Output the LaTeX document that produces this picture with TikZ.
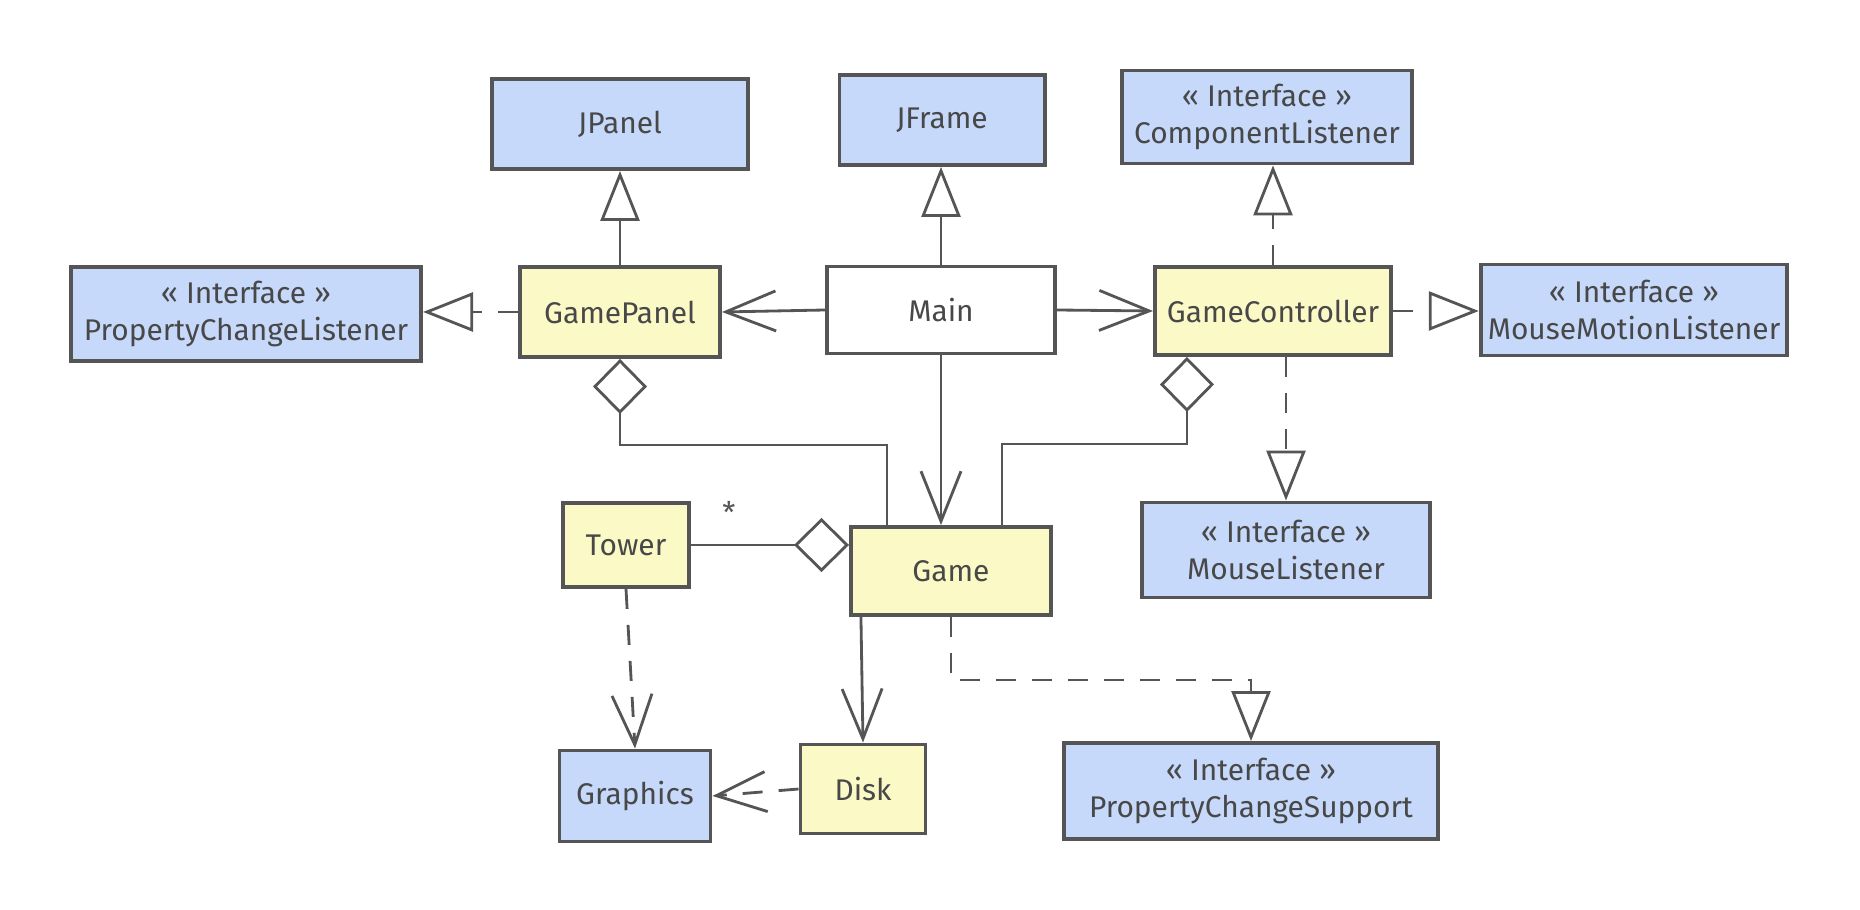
\documentclass[tikz,border=0pt]{standalone}
\usepackage{fontspec}
\setmainfont{Fira Sans}
\usetikzlibrary{arrows.meta}
\definecolor{ink}{HTML}{555555}
\definecolor{ifacefill}{HTML}{C6D9FA}
\definecolor{classfill}{HTML}{FBFAC6}
\tikzset{
  box/.style={draw=ink, line width=1.1pt, text=ink!85!black, align=center,
    minimum height=0.9cm, inner sep=2pt, font=\fontsize{8.5}{10.5}\selectfont},
  iface/.style={box, fill=ifacefill},
  cls/.style={box, fill=classfill},
  plain/.style={box, fill=white},
  link/.style={draw=ink, line width=0.8pt},
  dashy/.style={dash pattern=on 2mm off 1.6mm},
  uses/.style={link, -{Straight Barb[length=5mm, width=4mm]}},
  inherit/.style={link, -{Triangle[open, fill=white, length=5mm, width=3.9mm]}},
  realize/.style={inherit, dashy},
  aggr/.style={link, {Diamond[open, fill=white, length=5.5mm, width=5.4mm]}-},
}
\begin{document}
\begin{tikzpicture}[x=0.01cm, y=-0.01cm]
  \useasboundingbox (0,0) rectangle (1860,910);
  % top row
  \node[iface, minimum width=2.55cm] (JPanel) at (620,124) {JPanel};
  \node[iface, minimum width=2.05cm] (JFrame) at (942,120) {JFrame};
  \node[iface, minimum width=2.9cm, minimum height=0.93cm] (CompListener) at (1267,117) {« Interface »\\ComponentListener};
  % middle row
  \node[iface, minimum width=3.5cm, minimum height=0.94cm] (PropListener) at (246,314) {« Interface »\\PropertyChangeListener};
  \node[cls, minimum width=2cm] (GamePanel) at (620,312) {GamePanel};
  \node[plain, minimum width=2.28cm, minimum height=0.87cm] (Main) at (941,310) {Main};
  \node[cls, minimum width=2.36cm, minimum height=0.88cm] (GameController) at (1273,311) {GameController};
  \node[iface, minimum width=3.05cm, minimum height=0.91cm] (MotionListener) at (1634,310) {« Interface »\\MouseMotionListener};
  % lower rows
  \node[cls, minimum width=1.26cm, minimum height=0.84cm] (Tower) at (626,545) {Tower};
  \node[cls, minimum width=2cm, minimum height=0.88cm] (Game) at (951,571) {Game};
  \node[iface, minimum width=2.88cm, minimum height=0.95cm] (MouseListener) at (1286,550) {« Interface »\\MouseListener};
  \node[iface, minimum width=1.51cm, minimum height=0.91cm] (Graphics) at (635,796) {Graphics};
  \node[cls, minimum width=1.25cm, minimum height=0.89cm] (Disk) at (863,789) {Disk};
  \node[iface, minimum width=3.73cm, minimum height=0.96cm] (ChangeSupport) at (1251,791) {« Interface »\\PropertyChangeSupport};
  % generalization / realization
  \draw[inherit] (GamePanel.north) -- (JPanel.south);
  \draw[inherit] (Main.north) -- (Main.north |- JFrame.south);
  \draw[realize] (GameController.north) -- (GameController.north |- CompListener.south);
  \draw[realize] (GamePanel.west) -- (GamePanel.west -| PropListener.east);
  \draw[realize] (GameController.east) -- (GameController.east -| MotionListener.west);
  \draw[realize] (GameController.south -| MouseListener.north) -- (MouseListener.north);
  \draw[realize] (Game.south) -- ++(0,63) -| (ChangeSupport.north);
  % associations
  \draw[uses] (Main.west) -- (GamePanel.east);
  \draw[uses] (Main.east) -- (GameController.west);
  \draw[uses] (Main.south) -- (Main.south |- Game.north);
  \draw[uses] ([xshift=-0.9cm]Game.south) -- (Disk.north);
  \draw[uses, dashy] (Tower.south) -- (Graphics.north);
  \draw[uses, dashy] (Disk.west) -- (Graphics.east);
  % aggregations
  \draw[aggr] (GamePanel.south) -- ++(0,86) -| ([xshift=-0.64cm]Game.north);
  \draw[aggr] ([xshift=-0.86cm]GameController.south) -- ++(0,87) -| ([xshift=0.51cm]Game.north);
  \draw[aggr] (Game.west |- Tower.east) -- (Tower.east);
  \node[text=ink, font=\fontsize{8.5}{10}\selectfont] (towerMult) at (729,512) {*};
\end{tikzpicture}
\end{document}
